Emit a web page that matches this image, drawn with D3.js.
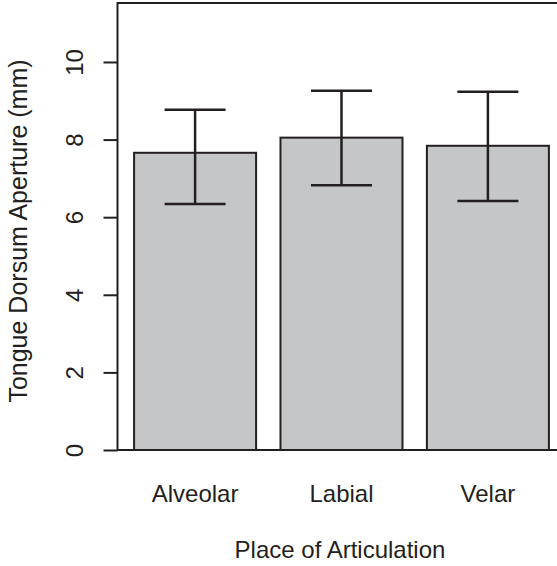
<!DOCTYPE html>
<html>
<head>
<meta charset="utf-8">
<script src="https://cdn.jsdelivr.net/npm/d3@7"></script>
<style>
  body { margin: 0; background: #fff; }
  svg { display: block; font-family: "Liberation Sans", Arial, Helvetica, sans-serif; }
</style>
</head>
<body>
<div id="chart"></div>
<script>
// bar heights and error bar ends
var categories = ["Alveolar", "Labial", "Velar"];
var means = [7.66, 8.05, 7.84];
var upper = [8.77, 9.26, 9.23];
var lower = [6.34, 6.82, 6.42];
var yTicks = [0, 2, 4, 6, 8, 10];

var width = 557, height = 566;
var plot = {left: 117.5, top: 3, bottom: 450};

var svg = d3.select("#chart").append("svg")
  .attr("width", width)
  .attr("height", height);

// R barplot-like coordinates: bar width 1, space 0.2, 4% padding
var x = d3.scaleLinear()
  .domain([0.064, 3.736])
  .range([plot.left, plot.left + 3.672 * 122]);

var y = d3.scaleLinear()
  .domain([0, 11.52])
  .range([plot.bottom, plot.top]);

var dark = "#231f20";

var bars = categories.map(function (c, i) {
  return {name: c, left: 0.2 + 1.2 * i, mean: means[i], hi: upper[i], lo: lower[i]};
});

// bars
svg.selectAll(".bar")
  .data(bars)
  .enter().append("rect")
  .attr("class", "bar")
  .attr("x", function (d) { return x(d.left); })
  .attr("y", function (d) { return y(d.mean); })
  .attr("width", function (d) { return x(d.left + 1) - x(d.left); })
  .attr("height", function (d) { return y(0) - y(d.mean); })
  .attr("fill", "#c5c6c8")
  .attr("stroke", dark)
  .attr("stroke-width", 2);

// error bars
var err = svg.selectAll(".err")
  .data(bars)
  .enter().append("g")
  .attr("class", "err")
  .attr("stroke", dark)
  .attr("stroke-width", 2.5);

err.append("line")
  .attr("x1", function (d) { return x(d.left + 0.5); })
  .attr("x2", function (d) { return x(d.left + 0.5); })
  .attr("y1", function (d) { return y(d.lo); })
  .attr("y2", function (d) { return y(d.hi); });

["hi", "lo"].forEach(function (k) {
  err.append("line")
    .attr("x1", function (d) { return x(d.left + 0.25); })
    .attr("x2", function (d) { return x(d.left + 0.75); })
    .attr("y1", function (d) { return y(d[k]); })
    .attr("y2", function (d) { return y(d[k]); });
});

// box around the plot region (right side falls off the canvas)
svg.append("rect")
  .attr("x", x(0.064))
  .attr("y", y(11.52))
  .attr("width", x(3.736) - x(0.064))
  .attr("height", y(0) - y(11.52))
  .attr("fill", "none")
  .attr("stroke", dark)
  .attr("stroke-width", 2);

// y axis
var yAxis = svg.append("g")
  .attr("transform", "translate(" + plot.left + ",0)")
  .call(d3.axisLeft(y).tickValues(yTicks).tickSize(14).tickFormat(d3.format("d")));

yAxis.select(".domain").remove();
yAxis.selectAll(".tick line")
  .attr("stroke", dark)
  .attr("stroke-width", 2);
yAxis.selectAll(".tick text")
  .attr("x", null).attr("dy", null)
  .attr("fill", "#231f20")
  .style("font-size", "24px")
  .style("font-family", "Liberation Sans, Arial, sans-serif")
  .attr("text-anchor", "middle")
  .attr("transform", "translate(-34.5,0) rotate(-90)");

// category labels
svg.selectAll(".cat")
  .data(bars)
  .enter().append("text")
  .attr("class", "cat")
  .attr("x", function (d) { return x(d.left + 0.5); })
  .attr("y", 502)
  .attr("text-anchor", "middle")
  .attr("fill", "#231f20")
  .style("font-size", "24px")
  .text(function (d) { return d.name; });

// axis titles
svg.append("text")
  .attr("x", 340)
  .attr("y", 558)
  .attr("text-anchor", "middle")
  .attr("fill", "#231f20")
  .style("font-size", "24px")
  .text("Place of Articulation");

svg.append("text")
  .attr("transform", "translate(27,231) rotate(-90)")
  .attr("text-anchor", "middle")
  .attr("fill", "#231f20")
  .style("font-size", "25px")
  .text("Tongue Dorsum Aperture (mm)");
</script>
</body>
</html>
